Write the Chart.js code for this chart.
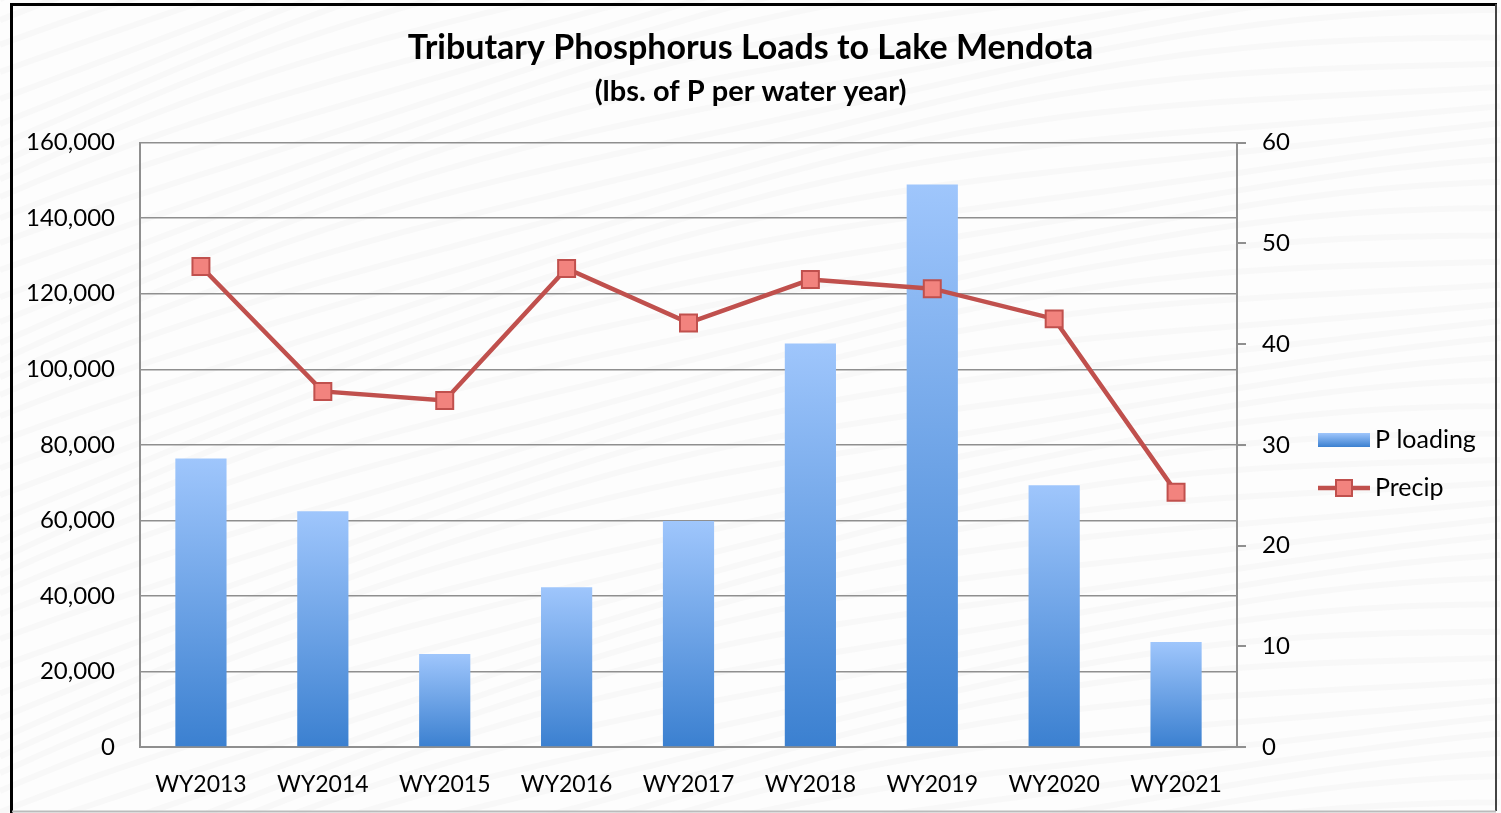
<!DOCTYPE html>
<html>
<head>
<meta charset="utf-8">
<title>Tributary Phosphorus Loads to Lake Mendota</title>
<script src="https://cdn.jsdelivr.net/npm/chart.js@4.4.0/dist/chart.umd.min.js"></script>
<style>
    html, body { margin: 0; padding: 0; background: #fff; }
    #wrap { width: 1501px; height: 813px; position: relative; }
</style>
</head>
<body>
<div id="wrap"><canvas id="chartLoads"></canvas></div>
<script>
// data
const years = ['WY2013', 'WY2014', 'WY2015', 'WY2016', 'WY2017', 'WY2018', 'WY2019', 'WY2020', 'WY2021'];
const pLoading = [76400, 62400, 24600, 42300, 59800, 106800, 148900, 69300, 27800];
const precip = [47.7, 35.3, 34.4, 47.5, 42.1, 46.4, 45.5, 42.5, 25.3];
const loadTicks = [0, 20000, 40000, 60000, 80000, 100000, 120000, 140000, 160000];
const precipTicks = [0, 10, 20, 30, 40, 50, 60];

const FONT = 'Lato, "Open Sans", sans-serif';
const GRID = '#8f8f8f';
const LINE_RED = '#c0504d';
const MARK_RED = '#f2837e';

function barFill(context) {
    var chart = context.chart;
    var y = chart.scales.y;
    if (!y || context.raw === undefined) return '#6fa3e8';
    var top = y.getPixelForValue(context.raw);
    var base = y.getPixelForValue(0);
    if (!isFinite(top) || !isFinite(base) || top === base) return '#6fa3e8';
    var g = chart.ctx.createLinearGradient(0, top, 0, base);
    g.addColorStop(0, '#9fc6fc');
    g.addColorStop(1, '#3b80d0');
    return g;
}

// faint wavy texture behind everything
const backdrop = {
    id: 'backdrop',
    beforeDraw(chart) {
        var ctx = chart.ctx;
        ctx.save();
        ctx.fillStyle = '#fdfdfd';
        ctx.fillRect(0, 0, chart.width, chart.height);
        ctx.strokeStyle = 'rgba(120, 110, 110, 0.035)';
        ctx.lineWidth = 6;
        for (var k = -40; k < 60; k++) {
            ctx.beginPath();
            for (var x = 0; x <= chart.width; x += 20) {
                var yy = k * 22 + 0.00012 * (x - 1500) * (x - 1500) - 0.05 * x + 8 * Math.sin(x / 160 + k * 0.7);
                if (x === 0) ctx.moveTo(x, yy); else ctx.lineTo(x, yy);
            }
            ctx.stroke();
        }
        ctx.restore();
    }
};

// outer frame and legend on the right
const frameAndLegend = {
    id: 'frameAndLegend',
    afterDraw(chart) {
        var ctx = chart.ctx;
        ctx.save();
        ctx.strokeStyle = '#000';
        ctx.lineWidth = 3;
        ctx.beginPath();
        ctx.moveTo(11.5, 813);
        ctx.lineTo(11.5, 4.5);
        ctx.lineTo(1497, 4.5);
        ctx.stroke();
        ctx.strokeStyle = '#444';
        ctx.lineWidth = 2;
        ctx.beginPath();
        ctx.moveTo(1496, 4);
        ctx.lineTo(1496, 811);
        ctx.stroke();
        ctx.strokeStyle = '#bbb';
        ctx.beginPath();
        ctx.moveTo(12, 811.5);
        ctx.lineTo(1496, 811.5);
        ctx.stroke();

        // legend
        var lx = 1318, lw = 52;
        var y1 = 440, y2 = 488;
        var g = ctx.createLinearGradient(0, y1 - 7, 0, y1 + 7);
        g.addColorStop(0, '#9fc6fc');
        g.addColorStop(1, '#3b80d0');
        ctx.fillStyle = g;
        ctx.fillRect(lx, y1 - 7, lw, 14);
        ctx.strokeStyle = LINE_RED;
        ctx.lineWidth = 4.5;
        ctx.beginPath();
        ctx.moveTo(lx, y2);
        ctx.lineTo(lx + lw, y2);
        ctx.stroke();
        ctx.fillStyle = MARK_RED;
        ctx.lineWidth = 2;
        ctx.fillRect(lx + lw / 2 - 8, y2 - 8, 16, 16);
        ctx.strokeRect(lx + lw / 2 - 8, y2 - 8, 16, 16);
        ctx.fillStyle = '#000';
        ctx.font = '25px ' + FONT;
        ctx.textBaseline = 'middle';
        ctx.fillText(chart.data.datasets[0].label, lx + lw + 5, y1);
        ctx.fillText(chart.data.datasets[1].label, lx + lw + 5, y2);
        ctx.restore();
    }
};

const config = {
    data: {
        labels: years,
        datasets: [{
                type: 'bar',
                label: 'P loading',
                data: pLoading,
                yAxisID: 'y',
                backgroundColor: barFill,
                borderWidth: 0,
                barPercentage: 0.42,
                categoryPercentage: 1.0,
                order: 1
            },
            {
                type: 'line',
                label: 'Precip',
                data: precip,
                yAxisID: 'y1',
                borderColor: LINE_RED,
                borderWidth: 4.5,
                pointStyle: 'rect',
                pointRadius: 12,
                pointBackgroundColor: MARK_RED,
                pointBorderColor: LINE_RED,
                pointBorderWidth: 2,
                tension: 0,
                order: 0
            }
        ]
    },
    options: {
        responsive: true,
        maintainAspectRatio: false,
        animation: false,
        layout: {
            padding: { top: 20, left: 0, right: 0, bottom: 0 }
        },
        plugins: {
            legend: { display: false },
            tooltip: { enabled: false },
            title: {
                display: true,
                text: 'Tributary Phosphorus Loads to Lake Mendota',
                color: '#000',
                font: { family: FONT, size: 34, weight: 'bold' },
                padding: { top: 8, bottom: 4 }
            },
            subtitle: {
                display: true,
                text: '(lbs. of P per water year)',
                color: '#000',
                font: { family: FONT, size: 29, weight: 'bold' },
                padding: { top: 1, bottom: 34 }
            }
        },
        scales: {
            x: {
                grid: { display: false },
                border: { display: true, color: GRID, width: 2 },
                ticks: {
                    color: '#000',
                    font: { family: FONT, size: 23 },
                    padding: 16,
                    maxRotation: 0
                },
                afterFit: function(scale) { scale.height = 66; }
            },
            y: {
                position: 'left',
                min: loadTicks[0],
                max: loadTicks[loadTicks.length - 1],
                afterBuildTicks: function(scale) {
                    scale.ticks = loadTicks.map(v => ({ value: v }));
                },
                grid: { color: GRID, lineWidth: 1.5, drawTicks: false },
                border: { display: true, color: GRID, width: 2 },
                ticks: {
                    color: '#000',
                    font: { family: FONT, size: 24 },
                    padding: 25,
                    callback: function(v) { return Number(v).toLocaleString('en-US'); }
                },
                afterFit: function(scale) { scale.width = 140; }
            },
            y1: {
                position: 'right',
                min: precipTicks[0],
                max: precipTicks[precipTicks.length - 1],
                afterBuildTicks: function(scale) {
                    scale.ticks = precipTicks.map(v => ({ value: v }));
                },
                grid: { drawOnChartArea: false, drawTicks: true, tickLength: 9, color: GRID, lineWidth: 2 },
                border: { display: true, color: GRID, width: 2 },
                ticks: {
                    color: '#000',
                    font: { family: FONT, size: 24 },
                    padding: 16
                },
                afterFit: function(scale) { scale.width = 264; }
            }
        }
    },
    plugins: [backdrop, frameAndLegend]
};

var chartLoads = new Chart(document.getElementById('chartLoads'), config);
</script>
</body>
</html>
